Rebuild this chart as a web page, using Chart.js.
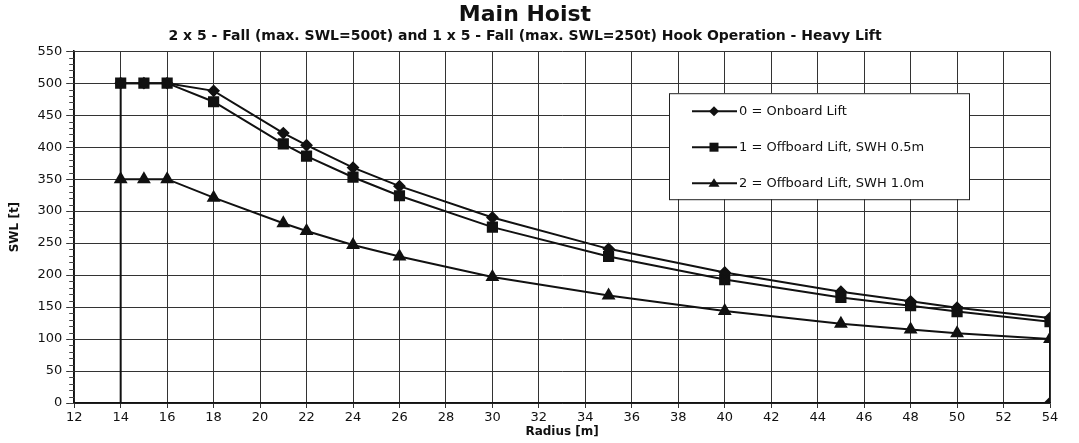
<!DOCTYPE html>
<html>
<head>
<meta charset="utf-8">
<title>Main Hoist</title>
<script src="https://cdn.jsdelivr.net/npm/chart.js"></script>
<style>
  body { margin: 0; padding: 0; background: #fff; overflow: hidden; }
  .wrap { width: 1079px; height: 443px; }
</style>
</head>
<body>
<div class="wrap"><canvas id="hoistChart"></canvas></div>
<script>
// radius [m] and SWL [t]
const onboardRadius = [14, 14, 15, 16, 18, 21, 22, 24, 26, 30, 35, 40, 45, 48, 50, 54, 54];
const onboardSwl    = [0, 500, 500, 500, 488, 422, 403, 368, 339, 290, 241, 204, 174, 159, 149, 133, 0];
const offboardRadius = [14, 15, 16, 18, 21, 22, 24, 26, 30, 35, 40, 45, 48, 50, 54];
const offboard05Swl  = [500, 500, 500, 471, 405, 386, 353, 324, 275, 229, 193, 165, 152, 143, 127];
const offboard10Swl  = [350, 350, 350, 321, 281, 269, 247, 229, 197, 168, 144, 124, 115, 109, 100];
const seriesNames = ['0 = Onboard Lift', '1 = Offboard Lift, SWH 0.5m', '2 = Offboard Lift, SWH 1.0m'];

const FONT = 'DejaVu Sans';
const INK = '#111';

function toPoints(xs, ys) {
  return xs.map((x, i) => ({ x: x, y: ys[i] }));
}

// first point of the onboard curve is the foot of the vertical line, no marker there
const onboardRadii = onboardSwl.map((v, i) => (i === 0 ? 0 : 5));

function marker(ctx, style, x, y) {
  ctx.beginPath();
  if (style === 'rectRot') {
    ctx.moveTo(x, y - 5); ctx.lineTo(x + 5, y); ctx.lineTo(x, y + 5); ctx.lineTo(x - 5, y);
  } else if (style === 'rect') {
    ctx.rect(x - 4.5, y - 4.5, 9, 9);
  } else {
    ctx.moveTo(x, y - 5); ctx.lineTo(x + 5.5, y + 3.5); ctx.lineTo(x - 5.5, y + 3.5);
  }
  ctx.closePath();
  ctx.fill();
}

// boxed legend inside the plot, like the original
const boxLegend = {
  id: 'boxLegend',
  afterDraw(chart) {
    const { ctx, chartArea } = chart;
    const bx = chartArea.right - 381, by = chartArea.top + 42, bw = 300, bh = 106;
    ctx.save();
    ctx.fillStyle = '#fff';
    ctx.fillRect(bx, by, bw, bh);
    ctx.strokeStyle = '#222';
    ctx.lineWidth = 1;
    ctx.strokeRect(bx + 0.5, by + 0.5, bw, bh);
    ctx.font = '13px "' + FONT + '"';
    ctx.textBaseline = 'middle';
    chart.data.datasets.forEach((ds, i) => {
      const y = by + 18 + i * 36;
      ctx.strokeStyle = INK;
      ctx.lineWidth = 2;
      ctx.beginPath();
      ctx.moveTo(bx + 23, y);
      ctx.lineTo(bx + 68, y);
      ctx.stroke();
      ctx.fillStyle = INK;
      marker(ctx, ds.pointStyle, bx + 45, y);
      ctx.fillText(ds.label, bx + 70, y);
    });
    ctx.restore();
  }
};

// small minor ticks every 10 t on the SWL axis
const minorTicks = {
  id: 'minorTicks',
  afterDraw(chart) {
    const { ctx, scales } = chart;
    const y = scales.y;
    ctx.save();
    ctx.strokeStyle = '#444';
    ctx.lineWidth = 1;
    ctx.beginPath();
    for (let v = y.min; v <= y.max; v += 10) {
      const py = Math.round(y.getPixelForValue(v)) + 0.5;
      ctx.moveTo(y.right - 5, py);
      ctx.lineTo(y.right, py);
    }
    ctx.stroke();
    ctx.restore();
  }
};

const ctx = document.getElementById('hoistChart').getContext('2d');
new Chart(ctx, {
  type: 'line',
  data: {
    datasets: [{
      label: seriesNames[0],
      data: toPoints(onboardRadius, onboardSwl),
      borderColor: INK,
      backgroundColor: INK,
      borderWidth: 2,
      pointStyle: 'rectRot',
      pointRadius: onboardRadii,
    }, {
      label: seriesNames[1],
      data: toPoints(offboardRadius, offboard05Swl),
      borderColor: INK,
      backgroundColor: INK,
      borderWidth: 2,
      pointStyle: 'rect',
      pointRadius: 6.5,
    }, {
      label: seriesNames[2],
      data: toPoints(offboardRadius, offboard10Swl),
      borderColor: INK,
      backgroundColor: INK,
      borderWidth: 2,
      pointStyle: 'triangle',
      pointRadius: 6,
    }],
  },
  options: {
    responsive: true,
    maintainAspectRatio: false,
    animation: false,
    layout: { padding: { left: 0, right: 29, top: 0, bottom: 4 } },
    plugins: {
      legend: { display: false },
      tooltip: { enabled: false },
      title: {
        display: true,
        text: 'Main Hoist',
        color: INK,
        font: { family: FONT, size: 22, weight: 'bold' },
        padding: { top: 2, bottom: 0 },
      },
      subtitle: {
        display: true,
        text: '2 x 5 - Fall (max. SWL=500t) and 1 x 5 - Fall (max. SWL=250t) Hook Operation - Heavy Lift',
        color: INK,
        font: { family: FONT, size: 14, weight: 'bold' },
        padding: { top: 0, bottom: 6 },
      },
    },
    scales: {
      x: {
        type: 'linear',
        min: 12,
        max: 54,
        ticks: { stepSize: 2, color: INK, font: { family: FONT, size: 13 }, padding: 2 },
        grid: { color: '#333', lineWidth: 1, tickLength: 5 },
        border: { color: INK, width: 1.5 },
        title: {
          display: true,
          text: 'Radius [m]',
          color: INK,
          font: { family: FONT, size: 12, weight: 'bold' },
          padding: { top: -3, bottom: 0 },
        },
      },
      y: {
        min: 0,
        max: 550,
        ticks: { stepSize: 50, color: INK, font: { family: FONT, size: 13 }, padding: 4 },
        grid: { color: '#333', lineWidth: 1, tickLength: 8 },
        border: { color: INK, width: 1.5 },
        title: {
          display: true,
          text: 'SWL [t]',
          color: INK,
          font: { family: FONT, size: 12, weight: 'bold' },
          padding: { top: 8, bottom: 11 },
        },
      },
    },
  },
  plugins: [boxLegend, minorTicks],
});
</script>
</body>
</html>
